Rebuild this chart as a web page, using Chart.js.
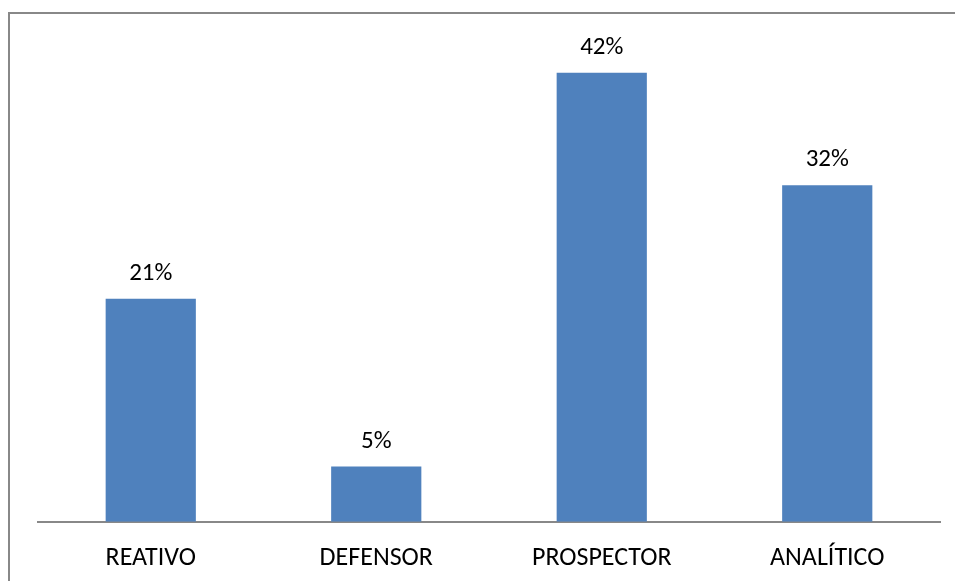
<!DOCTYPE html>
<html>
<head>
<meta charset="utf-8">
<script src="https://cdn.jsdelivr.net/npm/chart.js@4"></script>
<style>
  html, body { margin: 0; padding: 0; background: #fff; overflow: hidden; }
  #wrap { position: relative; width: 955px; height: 581px; overflow: hidden; }
  #frame { position: absolute; left: 8px; top: 12px; width: 960px; height: 620px;
           border-left: 2px solid #888; border-top: 2px solid #888; box-sizing: border-box; }
  canvas { position: absolute; left: 0; top: 0; }
</style>
</head>
<body>
<div id="wrap">
  <div id="frame"></div>
  <canvas id="c" width="955" height="600"></canvas>
</div>
<script>
const categories = ["REATIVO", "DEFENSOR", "PROSPECTOR", "ANALÍTICO"];
const values = [21.0, 5.2, 42.3, 31.7];
const valueLabels = ["21%", "5%", "42%", "32%"];

const fontFamily = "Carlito, Lato, 'Open Sans', sans-serif";

const labelPlugin = {
  id: 'barLabels',
  afterDatasetsDraw(chart) {
    const ctx = chart.ctx;
    const meta = chart.getDatasetMeta(0);
    ctx.save();
    ctx.font = "25px " + fontFamily;
    ctx.fillStyle = "#000";
    ctx.textAlign = "center";
    ctx.textBaseline = "alphabetic";
    meta.data.forEach((bar, i) => {
      ctx.fillText(valueLabels[i], bar.x, bar.y - 19);
    });
    ctx.restore();
  }
};

new Chart(document.getElementById('c'), {
  type: 'bar',
  data: {
    labels: categories,
    datasets: [{
      data: values,
      backgroundColor: '#4F81BD',
      borderWidth: 0,
      barPercentage: 0.4,
      categoryPercentage: 1.0
    }]
  },
  options: {
    responsive: false,
    animation: false,
    devicePixelRatio: 1,
    layout: { padding: { left: 38, right: 15, top: 44, bottom: 5 } },
    plugins: { legend: { display: false }, tooltip: { enabled: false } },
    scales: {
      x: {
        grid: { display: false, drawTicks: false },
        border: { display: true, color: '#888', width: 2 },
        ticks: { color: '#000', padding: 21, font: { size: 26, family: fontFamily } }
      },
      y: {
        display: false,
        min: 0,
        max: 45
      }
    }
  },
  plugins: [labelPlugin]
});
</script>
</body>
</html>
